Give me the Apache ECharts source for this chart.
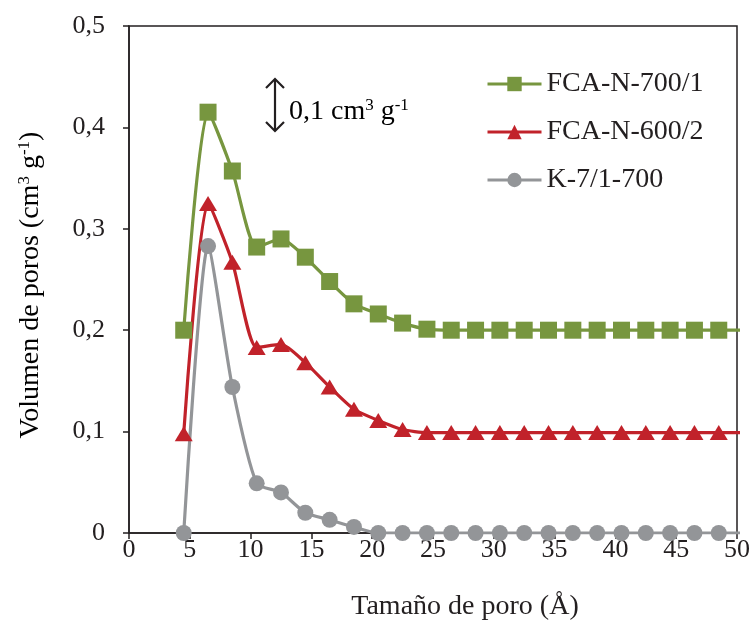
<!DOCTYPE html>
<html>
<head>
<meta charset="utf-8">
<script src="https://cdn.jsdelivr.net/npm/echarts@6/dist/echarts.min.js"></script>
<style>html,body{margin:0;padding:0;background:#fff}#c{width:753px;height:632px}</style>
</head>
<body>
<div id="c"></div>
<script>
// Pore size (Å)
const poreSize = [4.5, 6.5, 8.5, 10.5, 12.5, 14.5, 16.5, 18.5, 20.5, 22.5, 24.5, 26.5, 28.5, 30.5, 32.5, 34.5, 36.5, 38.5, 40.5, 42.5, 44.5, 46.5, 48.5, 50.5];
// Pore volume (cm3 g-1), curves offset as in the figure
const fcaN700 = [0.200, 0.415, 0.357, 0.282, 0.290, 0.272, 0.248, 0.226, 0.216, 0.207, 0.201, 0.200, 0.200, 0.200, 0.200, 0.200, 0.200, 0.200, 0.200, 0.200, 0.200, 0.200, 0.200, 0.200];
const fcaN600 = [0.098, 0.325, 0.267, 0.183, 0.186, 0.168, 0.144, 0.122, 0.111, 0.102, 0.099, 0.099, 0.099, 0.099, 0.099, 0.099, 0.099, 0.099, 0.099, 0.099, 0.099, 0.099, 0.099, 0.099];
const k7700 = [0.000, 0.283, 0.144, 0.049, 0.040, 0.020, 0.013, 0.006, 0.000, 0.000, 0.000, 0.000, 0.000, 0.000, 0.000, 0.000, 0.000, 0.000, 0.000, 0.000, 0.000, 0.000, 0.000, 0.000];
const seriesNames = ['FCA-N-700/1', 'FCA-N-600/2', 'K-7/1-700'];
const xTicks = {min: 0, max: 50, interval: 5};
const yTicks = {min: 0, max: 0.5, interval: 0.1};

const FONT = 'Liberation Serif';
const pairs = arr => poreSize.map((x, i) => [x, arr[i]]);

const chart = echarts.init(document.getElementById('c'), null, {renderer: 'canvas'});
const sup = {fontFamily: FONT, fontSize: 17, color: '#231f20', verticalAlign: 'top', lineHeight: 17};
const base = {fontFamily: FONT, fontSize: 28, color: '#231f20', lineHeight: 30};

chart.setOption({
  animation: false,
  backgroundColor: '#ffffff',
  grid: {left: 129, right: 16, top: 26, bottom: 99, show: true, borderColor: '#231f20', borderWidth: 1.5, backgroundColor: 'transparent'},
  xAxis: {
    type: 'value', min: xTicks.min, max: xTicks.max, interval: xTicks.interval,
    axisLine: {lineStyle: {color: '#231f20', width: 1.5}},
    axisTick: {show: true, length: 6, lineStyle: {color: '#231f20', width: 1.5}},
    splitLine: {show: false},
    axisLabel: {margin: 4, fontFamily: FONT, fontSize: 26, color: '#231f20'}
  },
  yAxis: {
    type: 'value', min: yTicks.min, max: yTicks.max, interval: yTicks.interval,
    axisLine: {show: true, lineStyle: {color: '#231f20', width: 1.5}},
    axisTick: {show: true, length: 6, lineStyle: {color: '#231f20', width: 1.5}},
    splitLine: {show: false},
    axisLabel: {margin: 24, fontFamily: FONT, fontSize: 26, color: '#231f20',
      formatter: v => v === 0 ? '0' : v.toFixed(1).replace('.', ',')}
  },
  legend: {
    orient: 'vertical', left: 481, top: 64, itemWidth: 54, itemHeight: 18, itemGap: 18,
    data: seriesNames,
    lineStyle: {width: 3},
    textStyle: {fontFamily: FONT, fontSize: 28, color: '#231f20', lineHeight: 30}
  },
  series: [
    {name: seriesNames[0], type: 'line', data: pairs(fcaN700), smooth: 0.22, clip: true,
     symbol: 'rect', symbolSize: 17, color: '#77963F', lineStyle: {width: 3.2}},
    {name: seriesNames[1], type: 'line', data: pairs(fcaN600), smooth: 0.22, clip: true,
     symbol: 'triangle', symbolSize: [18, 15], color: '#C1222A', lineStyle: {width: 3.2}},
    {name: seriesNames[2], type: 'line', data: pairs(k7700), smooth: 0.22, clip: true,
     symbol: 'circle', symbolSize: 16, color: '#939598', lineStyle: {width: 3.2}}
  ],
  graphic: [
    {type: 'line', shape: {x1: 275, y1: 79, x2: 275, y2: 131}, style: {stroke: '#231f20', lineWidth: 2.2}},
    {type: 'polyline', shape: {points: [[266, 88], [275, 79], [284, 88]]}, style: {stroke: '#231f20', lineWidth: 2.2, fill: null}},
    {type: 'polyline', shape: {points: [[266, 122], [275, 131], [284, 122]]}, style: {stroke: '#231f20', lineWidth: 2.2, fill: null}},
    {type: 'text', left: 289, top: 97,
     style: {text: '{b|0,1 cm}{s|3}{b| g}{s|-1}', rich: {b: base, s: sup}}},
    {type: 'text', x: 465, y: 607,
     style: {text: 'Tamaño de poro (Å)', fontFamily: FONT, fontSize: 28, fill: '#231f20', align: 'center', verticalAlign: 'middle'}},
    {type: 'text', x: 31, y: 285, rotation: Math.PI / 2,
     style: {text: '{b|Volumen de poros (cm}{s|3}{b| g}{s|-1}{b|)}', rich: {b: base, s: sup}, align: 'center', verticalAlign: 'middle'}}
  ]
});
</script>
</body>
</html>
